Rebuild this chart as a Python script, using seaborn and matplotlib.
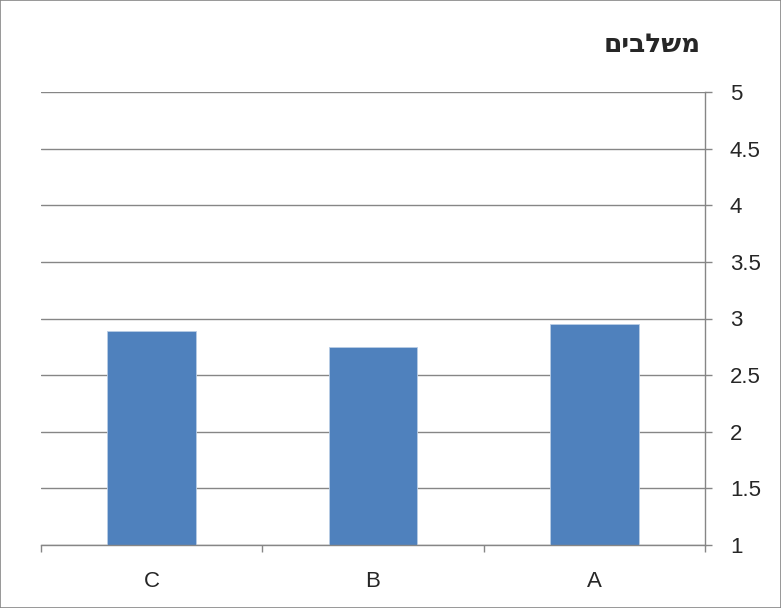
import matplotlib.pyplot as plt
import seaborn as sns
from matplotlib.patches import Rectangle

# Datos (orden de izquierda a derecha como en el gráfico RTL)
categories = ["C", "B", "A"]
values = [2.89, 2.75, 2.95]
yticks = [1, 1.5, 2, 2.5, 3, 3.5, 4, 4.5, 5]
title_text = "משלבים"

sns.set_style("white")
plt.rcParams['font.family'] = ['Liberation Sans', 'DejaVu Sans']

fig = plt.figure(figsize=(7.81, 6.08), dpi=100)
ax = fig.add_axes([41 / 781, 1 - 545 / 608, 664 / 781, 453 / 608])

sns.barplot(x=categories, y=values, order=categories, color="#4F81BD",
            saturation=1, width=0.4, ax=ax)
for p in ax.patches:
    p.set_edgecolor("#B9CDE5")
    p.set_linewidth(0.6)

ax.set_ylim(1, 5)
ax.set_xlim(-0.5, 2.5)
ax.set_yticks(yticks)
ax.set_yticklabels([f"{t:g}" for t in yticks], fontsize=16)
ax.yaxis.tick_right()
ax.grid(axis="y", color="#868686", linewidth=1)
ax.set_axisbelow(True)

# ticks entre categorías (estilo Excel)
ax.set_xticks([-0.5, 0.5, 1.5, 2.5])
ax.set_xticklabels([])
ax.set_xticks([0, 1, 2], minor=True)
ax.set_xticklabels(categories, minor=True, fontsize=16)
ax.tick_params(axis="x", which="both", bottom=True)
ax.tick_params(axis="x", which="minor", length=0, pad=19)
ax.tick_params(axis="x", which="major", length=5, color="#868686", width=1)
ax.tick_params(axis="y", left=False, right=True, labelleft=False, labelright=True,
               length=5, color="#868686", width=1, pad=13)

for s in ["top", "left"]:
    ax.spines[s].set_visible(False)
for s in ["right", "bottom"]:
    ax.spines[s].set_color("#868686")
    ax.spines[s].set_linewidth(1)
ax.set_xlabel("")
ax.set_ylabel("")

# título en hebreo (invertido porque matplotlib no hace bidi)
fig.text(652 / 781, 1 - 45 / 608, title_text[::-1], ha="center", va="center",
         fontsize=19, fontweight="bold", family=['DejaVu Sans'])

fig.patches.append(Rectangle((0, 0), 1, 1, transform=fig.transFigure,
                             fill=False, edgecolor="#868686", linewidth=1.2))

fig.savefig("out.png", dpi=100)
